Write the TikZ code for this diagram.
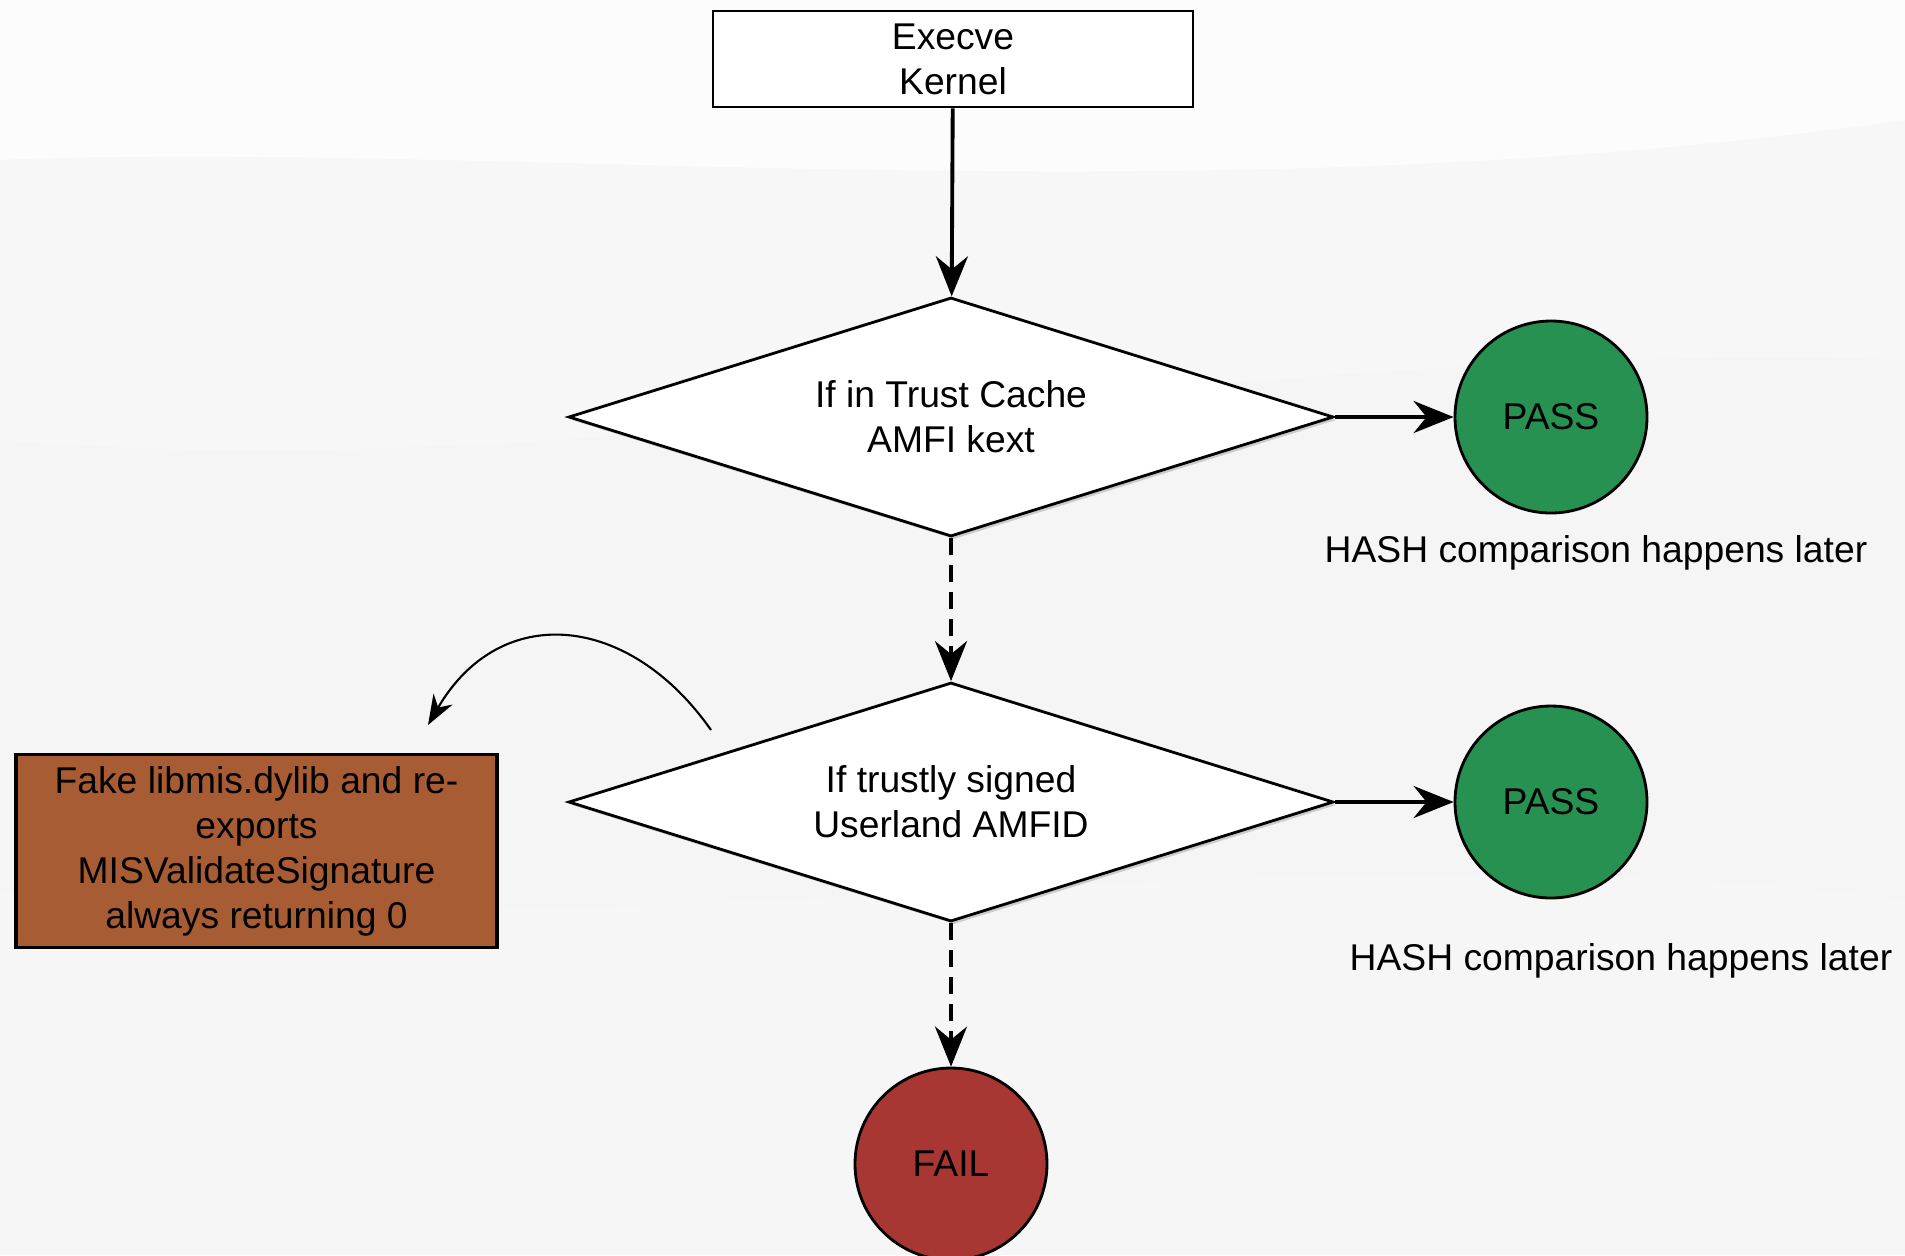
\documentclass[tikz,border=0pt]{standalone}
\usepackage{fontspec}
\setmainfont{Liberation Sans}
\usetikzlibrary{arrows.meta,shapes.geometric,shadows}

\definecolor{passgreen}{RGB}{39,145,82}
\definecolor{failred}{RGB}{168,54,50}
\definecolor{fakebrown}{RGB}{168,92,52}

\tikzset{
    every node/.style={font=\fontsize{10.6}{12.8}\selectfont, align=center},
    stepbox/.style={draw, line width=0.8pt, fill=white, minimum width=4.8cm, minimum height=0.96cm},
    decision/.style={diamond, aspect=3.2, draw, line width=0.8pt, fill=white, minimum width=7.65cm,
        minimum height=2.39cm, inner sep=0pt,
        drop shadow={shadow xshift=0.03cm, shadow yshift=-0.03cm, opacity=0.35}},
    verdict/.style={circle, draw, line width=0.8pt, minimum size=1.92cm, inner sep=0pt},
    flow/.style={line width=1.1pt, -{Stealth[length=4mm, width=3.2mm]}},
    maybe/.style={flow, dash pattern=on 0.17cm off 0.1cm},
}

\begin{document}
\begin{tikzpicture}
        %% Background
        \fill[black!1] (0,0) rectangle (19.05,-12.55);
        \fill[black!3] (0,-1.6) .. controls (5,-1.4) and (12,-2.2) .. (19.05,-1.2)
            -- (19.05,-12.55) -- (0,-12.55) -- cycle;
        \fill[black!4] (0,-4.4) .. controls (6,-4.9) and (12,-3.4) .. (19.05,-3.6)
            -- (19.05,-12.55) -- (0,-12.55) -- cycle;
        \fill[black!3.5] (0,-8.9) .. controls (6,-9.6) and (13,-8.2) .. (19.05,-9.0)
            -- (19.05,-12.55) -- (0,-12.55) -- cycle;
        \useasboundingbox (0,0) rectangle (19.05,-12.55);
        %% Nodes
        \node[stepbox] (execve) at (9.53,-0.59) {Execve\\Kernel};
        \node[decision] (cache) at (9.51,-4.17) {If in Trust Cache\\AMFI kext};
        \node[decision] (signed) at (9.51,-8.02) {If trustly signed\\Userland AMFID};
        \node[verdict, fill=passgreen] (pass1) at (15.51,-4.17) {PASS};
        \node[verdict, fill=passgreen] (pass2) at (15.51,-8.02) {PASS};
        \node[verdict, fill=failred] (fail) at (9.51,-11.64) {FAIL};
        \node (later1) at (15.96,-5.53) {HASH comparison happens later};
        \node (later2) at (16.21,-9.61) {HASH comparison happens later};
        \node[draw, line width=0.9pt, fill=fakebrown, minimum width=4.81cm,
            minimum height=1.9cm] (fake) at (2.565,-8.51)
            {Fake libmis.dylib and re-\\exports\\MISValidateSignature\\always returning 0};
        %% Flow
        \draw[flow] (execve) -- (cache);
        \draw[flow] (cache.east) -- (pass1);
        \draw[maybe] (cache) -- (signed);
        \draw[flow] (signed.east) -- (pass2);
        \draw[maybe] (signed) -- (fail);
        %% Hook
        \coordinate (hookstart) at (7.11,-7.30);
        \coordinate (hookend) at (4.28,-7.25);
        \draw[line width=0.6pt, -{Stealth[length=3mm, width=2.2mm]}]
            (hookstart) .. controls (6.29,-6.13) and (5.00,-6.01) .. (hookend);
    \end{tikzpicture}
\end{document}
